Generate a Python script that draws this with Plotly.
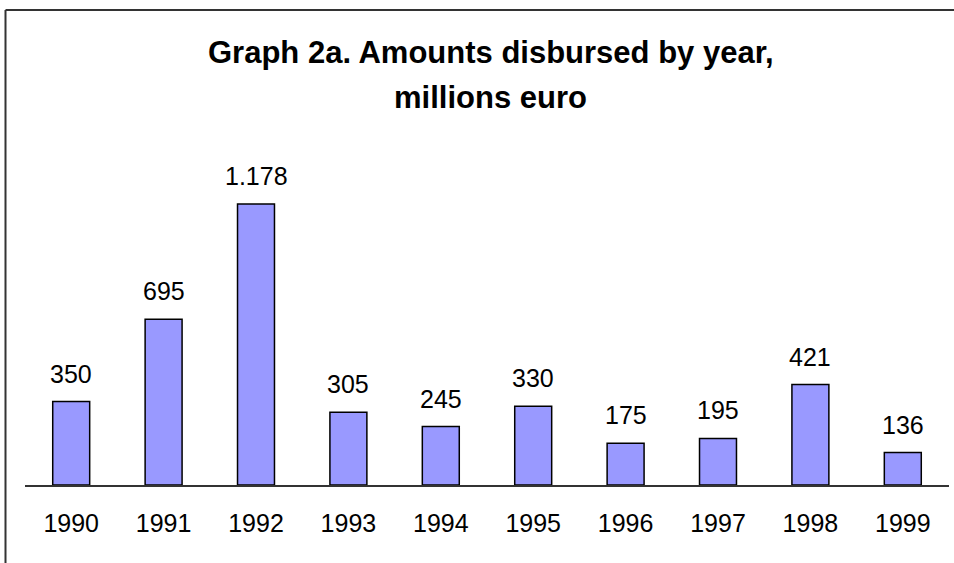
import plotly.graph_objects as go

# Annual disbursements (millions euro)
years = ["1990", "1991", "1992", "1993", "1994", "1995", "1996", "1997", "1998", "1999"]
amounts = [350, 695, 1178, 305, 245, 330, 175, 195, 421, 136]
value_labels = ["350", "695", "1.178", "305", "245", "330", "175", "195", "421", "136"]

FONT = "Liberation Sans, Arial, sans-serif"

# Figure pixel geometry
W, H = 954, 563
ML, MR, MT, MB = 25, 5, 150, 78
plot_h = H - MT - MB


def py(pix_y):
    """Convert a pixel row (from top) to paper y."""
    return (H - MB - pix_y) / plot_h


def px(pix_x):
    """Convert a pixel column (from left) to paper x."""
    return (pix_x - ML) / (W - ML - MR)


fig = go.Figure(
    go.Bar(
        x=years,
        y=amounts,
        width=0.4,
        marker=dict(color="#9999FF", line=dict(color="#000000", width=1.5)),
        hoverinfo="x+y",
    )
)

# Value labels above the bars (x given as category index)
for i, (val, lab) in enumerate(zip(amounts, value_labels)):
    fig.add_annotation(
        x=i, y=val, text=lab, showarrow=False,
        yanchor="middle", yshift=28,
        font=dict(family=FONT, size=25, color="#000000"),
    )

# Two-line bold title
for text, row in (("Graph 2a. Amounts disbursed by year,", 52), ("millions euro", 97)):
    fig.add_annotation(
        xref="paper", yref="paper", x=px(491), y=py(row),
        text=f"<b>{text}</b>", showarrow=False,
        xanchor="center", yanchor="middle",
        font=dict(family=FONT, size=31, color="#000000"),
    )

# Chart frame (top and left edges)
frame = dict(color="#333333", width=2)
fig.add_shape(type="line", xref="paper", yref="paper",
              x0=px(5.5), x1=px(954), y0=py(10), y1=py(10), line=frame)
fig.add_shape(type="line", xref="paper", yref="paper",
              x0=px(5.5), x1=px(5.5), y0=py(10), y1=py(563), line=frame)

fig.update_layout(
    width=W, height=H,
    margin=dict(l=ML, r=MR, t=MT, b=MB, pad=0),
    paper_bgcolor="white", plot_bgcolor="white",
    showlegend=False,
    font=dict(family=FONT, size=25, color="#000000"),
)
fig.update_xaxes(
    type="category",
    range=[-0.5, len(years) - 0.5],
    showline=True, linecolor="#333333", linewidth=1.5,
    ticks="", showgrid=False,
    tickfont=dict(family=FONT, size=25, color="#000000"),
    ticklabelstandoff=15,
)
fig.update_yaxes(
    range=[0, plot_h / 0.2385],
    visible=False, showgrid=False, zeroline=False,
)

fig.write_html("out.html")
